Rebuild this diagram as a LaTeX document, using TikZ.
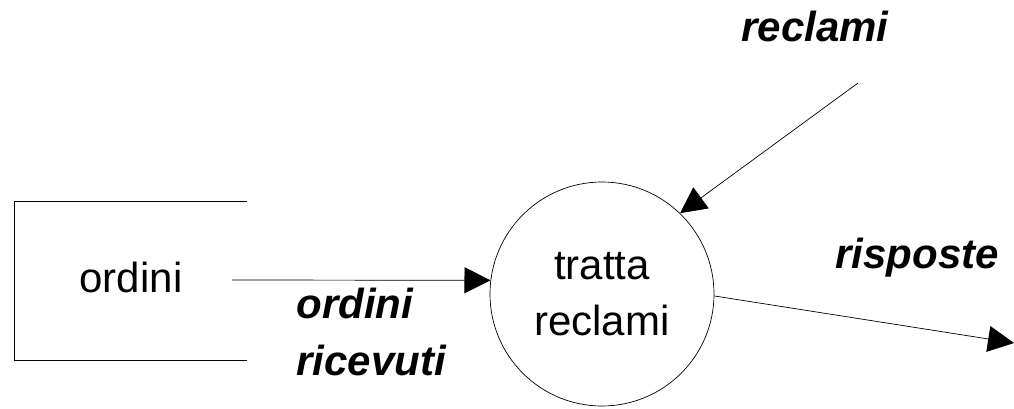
\documentclass[tikz,border=0pt]{standalone}
\usepackage{fontspec}
\setmainfont{Liberation Sans}
\usetikzlibrary{arrows.meta}
\begin{document}
\begin{tikzpicture}[x=1pt, y=-1pt,
		every node/.style={font=\fontsize{42}{56}\selectfont},
		flow/.style={-{Triangle[length=26pt,width=26pt]}, line width=0.7pt},
		lbl/.style={font=\fontsize{42}{57}\selectfont\bfseries\itshape}]
	\useasboundingbox (0,0) rectangle (1014,409);
	% data store
	\draw[line width=0.7pt] (247,201) -- (14,201) -- (14,360) -- (247,360);
	\node[anchor=base] (store) at (131,292) {ordini};
	% process
	\node[draw, circle, line width=0.7pt, minimum size=224pt, inner sep=0pt, align=center] (proc) at (602,294) {tratta\\reclami};
	% flows
	\coordinate (ordsrc) at (232,280);
	\coordinate (recsrc) at (858,83);
	\coordinate (rspdst) at (1014,343);
	\draw[flow] (ordsrc) -- (proc.173);
	\draw[flow] (recsrc) -- (proc.46);
	\draw[flow] (proc.-1) -- (rspdst);
	% labels
	\node[lbl, anchor=base west, align=left] (ordlbl) at (293,375) {ordini\\ricevuti};
	\node[lbl, anchor=base] (reclbl) at (815,42) {reclami};
	\node[lbl, anchor=base] (rsplbl) at (917,268) {risposte};
\end{tikzpicture}
\end{document}
